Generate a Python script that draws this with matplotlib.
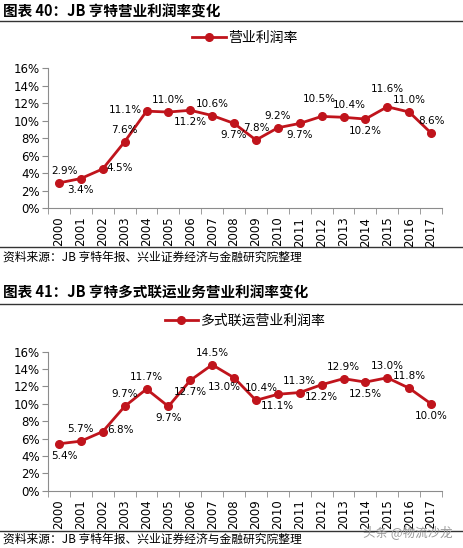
import matplotlib
matplotlib.use("Agg")
import matplotlib.pyplot as plt
from matplotlib.lines import Line2D

plt.rcParams['font.family'] = ['Noto Sans CJK SC', 'DejaVu Sans']

# ================================
# Data
# ================================
years = [str(y) for y in range(2000, 2018)]

op_margin = [2.9, 3.4, 4.5, 7.6, 11.1, 11.0, 11.2, 10.6, 9.7, 7.8,
             9.2, 9.7, 10.5, 10.4, 10.2, 11.6, 11.0, 8.6]
op_pos = ["ar", "b", "r", "a", "l", "a", "b", "a", "b", "a",
          "a", "b", "Al", "ar", "b", "A", "a", "a"]

im_margin = [5.4, 5.7, 6.8, 9.7, 11.7, 9.7, 12.7, 14.5, 13.0, 10.4,
             11.1, 11.3, 12.2, 12.9, 12.5, 13.0, 11.8, 10.0]
im_pos = ["br", "a", "r", "a", "a", "b", "b", "a", "bl", "ar",
          "b", "a", "b", "a", "b", "a", "a", "b"]

RED = "#C0141C"
GRAY = "#8C8C8C"

fig = plt.figure(figsize=(4.63, 5.48), dpi=100)

# label placement: (dx, dy) in points, ha, va
offsets = {"a": (0, 5, "center", "bottom"),
           "ar": (4, 5, "center", "bottom"),
           "A": (0, 9, "center", "bottom"),
           "Al": (-2, 9, "center", "bottom"),
           "b": (0, -5, "center", "top"),
           "br": (4, -5, "center", "top"),
           "bl": (-7, -3, "center", "top"),
           "l": (-3, 1, "right", "center"),
           "r": (3, 1, "left", "center")}


def draw_chart(rect, values, tags, series_name):
    ax = fig.add_axes(rect)
    x = range(len(values))
    ax.plot(x, values, color=RED, lw=2, marker="o", ms=5.5)
    for i, (v, t) in enumerate(zip(values, tags)):
        dx, dy, ha, va = offsets[t]
        ax.annotate(f"{v:.1f}%", (i, v), xytext=(dx, dy), textcoords="offset points",
                    ha=ha, va=va, fontsize=7.5, family="DejaVu Sans")
    ax.set_xlim(-0.5, len(values) - 0.5)
    ax.set_ylim(0, 16)
    ax.set_yticks(range(0, 17, 2))
    ax.set_yticklabels([f"{t}%" for t in range(0, 17, 2)], fontsize=8.5, family="DejaVu Sans")
    ax.set_xticks(list(x))
    ax.set_xticklabels(years, rotation=90, fontsize=8.5, family="DejaVu Sans")
    ax.set_xticks([i - 0.5 for i in range(len(values) + 1)], minor=True)
    ax.tick_params(axis="x", which="major", length=0, pad=6)
    ax.tick_params(axis="x", which="minor", length=4, color=GRAY, direction="out")
    ax.tick_params(axis="y", length=4, color=GRAY, direction="out", pad=2)
    for s in ["top", "right"]:
        ax.spines[s].set_visible(False)
    for s in ["left", "bottom"]:
        ax.spines[s].set_color(GRAY)
    handle = Line2D([], [], color=RED, lw=2, marker="o", ms=5.5)
    ax.legend([handle], [series_name], loc="lower center", bbox_to_anchor=(0.5, 1.08),
              frameon=False, fontsize=10, handlelength=2.4, handletextpad=0.2)
    return ax


draw_chart([0.1037, 0.6199, 0.851, 0.2555], op_margin, op_pos, "营业利润率")
draw_chart([0.1037, 0.1046, 0.851, 0.2536], im_margin, im_pos, "多式联运营业利润率")


# titles, rules and source lines
def hline(ypix):
    yf = 1 - ypix / 548
    fig.add_artist(Line2D([0, 1], [yf, yf], color="#333333", lw=1.0, transform=fig.transFigure))


fig.text(0.006, 1 - 12 / 548, "图表 40：JB 亨特营业利润率变化", fontsize=10.5,
         fontweight="bold", va="center", ha="left")
hline(20.5)
hline(247)
fig.text(0.006, 1 - 257 / 548, "资料来源：JB 亨特年报、兴业证券经济与金融研究院整理",
         fontsize=8.5, va="center", ha="left")

fig.text(0.006, 1 - 293 / 548, "图表 41：JB 亨特多式联运业务营业利润率变化", fontsize=10.5,
         fontweight="bold", va="center", ha="left")
hline(303.5)
hline(531)
fig.text(0.006, 1 - 539 / 548, "资料来源：JB 亨特年报、兴业证券经济与金融研究院整理",
         fontsize=8.5, va="center", ha="left")

fig.text(0.978, 1 - 533 / 548, "头条 @物流沙龙", fontsize=9, color="#9A9A9A",
         va="center", ha="right")

fig.savefig("out.png", dpi=100)
